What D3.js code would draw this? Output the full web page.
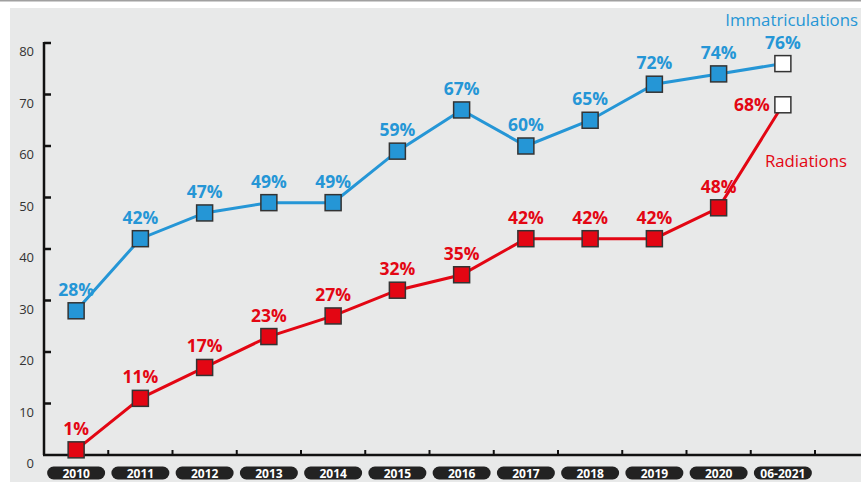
<!DOCTYPE html>
<html lang="fr">
<head>
    <meta charset="UTF-8">
    <title>Immatriculations / Radiations</title>
    <script src="https://d3js.org/d3.v7.min.js"></script>
    <style>
        body {margin: 0; background: #fff;}
        svg {display: block; font-family: "Open Sans", sans-serif;}
    </style>
</head>
<body>
<script>
    const width = 861;
    const height = 482;

    const years = ["2010", "2011", "2012", "2013", "2014", "2015", "2016", "2017", "2018", "2019", "2020", "06-2021"];
    const immatriculations = [28, 42, 47, 49, 49, 59, 67, 60, 65, 72, 74, 76];
    const radiations = [1, 11, 17, 23, 27, 32, 35, 42, 42, 42, 48, 68];
    const yTicks = [0, 10, 20, 30, 40, 50, 60, 70, 80];

    const blue = "#2596d6";
    const red = "#e30613";

    const svg = d3.select("body").append("svg")
            .attr("width", width).attr("height", height);

    // background panel
    svg.append("line")
            .attr("x1", 0).attr("x2", width).attr("y1", 0.5).attr("y2", 0.5)
            .style("stroke", "#a0a0a0").style("stroke-width", 2);
    svg.append("rect")
            .attr("x", 10).attr("y", 8)
            .attr("width", width - 10).attr("height", height - 8)
            .style("fill", "#e8e9e9");

    const x = d3.scaleBand().domain(years).range([44, 815]);
    const y = d3.scaleLinear().domain([0, 80]).range([455, 43]);

    // y axis
    svg.append("line")
            .attr("x1", 44).attr("x2", 44).attr("y1", y(80) - 1).attr("y2", y(0))
            .style("stroke", "#111").style("stroke-width", 2.5);
    svg.selectAll("line.ytick")
            .data(yTicks.filter(d => d > 0))
            .enter().append("line").attr("class", "ytick")
            .attr("x1", 44).attr("x2", 51)
            .attr("y1", d => y(d)).attr("y2", d => y(d))
            .style("stroke", "#111").style("stroke-width", 2.5);
    svg.selectAll("text.ylabel")
            .data(yTicks)
            .enter().append("text").attr("class", "ylabel")
            .attr("x", 34).attr("y", d => y(d) + 13)
            .attr("text-anchor", "end")
            .style("font-size", "13px").style("fill", "#333")
            .text(d => d);

    // x axis
    svg.append("line")
            .attr("x1", 43).attr("x2", width).attr("y1", y(0)).attr("y2", y(0))
            .style("stroke", "#111").style("stroke-width", 2.5);
    svg.selectAll("line.xtick")
            .data(years)
            .enter().append("line").attr("class", "xtick")
            .attr("x1", d => x(d) + x.bandwidth()).attr("x2", d => x(d) + x.bandwidth())
            .attr("y1", y(0)).attr("y2", y(0) - 5)
            .style("stroke", "#111").style("stroke-width", 2);

    const pills = svg.selectAll("g.pill")
            .data(years)
            .enter().append("g").attr("class", "pill")
            .attr("transform", d => "translate(" + (x(d) + x.bandwidth() / 2) + ",473)");
    pills.append("rect")
            .attr("x", -29).attr("y", -6.5)
            .attr("width", 58).attr("height", 13)
            .attr("rx", 6.5)
            .style("fill", "#222");
    pills.append("text")
            .attr("y", 4.5)
            .attr("text-anchor", "middle")
            .style("font-size", "12px").style("font-weight", "bold").style("fill", "#fff")
            .text(d => d);

    const cx = d => x(d) + x.bandwidth() / 2;

    function drawSeries(values, color) {
        const data = years.map((d, i) => ({year: d, value: values[i], last: i === years.length - 1}));

        svg.append("path")
                .datum(data)
                .attr("d", d3.line().x(d => cx(d.year)).y(d => y(d.value)))
                .style("fill", "none")
                .style("stroke", color)
                .style("stroke-width", 3);

        svg.selectAll(null)
                .data(data)
                .enter().append("rect")
                .attr("x", d => cx(d.year) - 8).attr("y", d => y(d.value) - 8)
                .attr("width", 16).attr("height", 16)
                .style("fill", d => d.last ? "#fff" : color)
                .style("stroke", "#333")
                .style("stroke-width", 1.5);

        return data;
    }

    const blueData = drawSeries(immatriculations, blue);
    const redData = drawSeries(radiations, red);

    svg.selectAll("text.blabel")
            .data(blueData)
            .enter().append("text").attr("class", "blabel")
            .attr("x", d => cx(d.year)).attr("y", d => y(d.value) - 15)
            .attr("text-anchor", "middle")
            .style("font-size", "17.5px").style("font-weight", "bold").style("fill", blue)
            .text(d => d.value + "%");

    svg.selectAll("text.rlabel")
            .data(redData)
            .enter().append("text").attr("class", "rlabel")
            .attr("x", d => d.last ? cx(d.year) - 13 : cx(d.year))
            .attr("y", d => d.last ? y(d.value) + 6 : y(d.value) - 15)
            .attr("text-anchor", d => d.last ? "end" : "middle")
            .style("font-size", "17.5px").style("font-weight", "bold").style("fill", red)
            .text(d => d.value + "%");

    // series names
    svg.append("text")
            .attr("x", 858).attr("y", 26)
            .attr("text-anchor", "end")
            .style("font-size", "16.8px").style("fill", blue)
            .text("Immatriculations");
    svg.append("text")
            .attr("x", 847).attr("y", 167)
            .attr("text-anchor", "end")
            .style("font-size", "16.8px").style("fill", red)
            .text("Radiations");
</script>
</body>
</html>
